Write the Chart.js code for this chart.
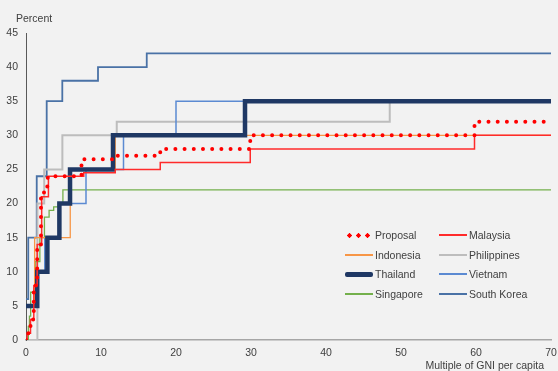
<!DOCTYPE html>
<html>
<head>
<meta charset="utf-8">
<script src="https://cdn.jsdelivr.net/npm/chart.js@4.4.0/dist/chart.umd.min.js"></script>
<style>
    html, body { margin: 0; padding: 0; background: #F2F2F2; }
    #wrap { position: relative; width: 558px; height: 371px; background: #F2F2F2; font-family: "Liberation Sans", Arial, sans-serif; color: #404040; }
    #chart { position: absolute; left: 0; top: 0; }
    .title { position: absolute; font-size: 10.5px; white-space: nowrap; }
    .legend-item { position: absolute; height: 14px; font-size: 10.5px; line-height: 14px; white-space: nowrap; }
    .legend-item .swatch { position: absolute; left: 0; width: 28px; }
    .legend-item .label { position: absolute; left: 30px; top: 0; }
</style>
</head>
<body>
<div id="wrap">
    <canvas id="chart" width="558" height="371"></canvas>
    <div class="title" style="left:16px; top:12px;">Percent</div>
    <div class="title" style="right:14px; top:359px;">Multiple of GNI per capita</div>
    <div id="legend"></div>
</div>
<script>
// x = multiple of GNI per capita where the next rate starts, y = marginal rate (%)
const proposalBreaks = [0.15, 0.6, 1.04, 1.49, 2.0, 2.4, 2.9, 7.4, 11.9, 17.9, 29.9, 59.8];
const proposalRates = [0, 1, 3, 8, 14, 21, 22.5, 24, 26.5, 27, 28, 30, 32];

const malaysiaBreaks = [0.15, 0.6, 1.04, 1.49, 2.09, 2.99, 7.7, 11.9, 17.9, 29.9, 59.8];
const malaysiaRates = [0, 1, 3, 8, 14, 21, 24, 24.5, 25, 26, 28, 30];

const indonesiaBreaks = [1.15, 5.9, 11.9];
const indonesiaRates = [5, 15, 25, 30];

const philippinesBreaks = [1.52, 2.43, 4.85, 12.1, 48.5];
const philippinesRates = [0, 20, 25, 30, 32, 35];

const thailandBreaks = [1.5, 2.85, 4.45, 5.87, 11.6, 29.2];
const thailandRates = [5, 10, 15, 20, 25, 30, 35];

const vietnamBreaks = [1.25, 2.5, 4.5, 8, 13, 20];
const vietnamRates = [5, 10, 15, 20, 25, 30, 35];

const singaporeBreaks = [0.31, 0.46, 0.62, 1.23, 1.85, 2.46, 3.08, 3.69, 4.31, 4.92];
const singaporeRates = [0, 2, 3.5, 7, 11.5, 15, 18, 19, 19.5, 20, 22];

const koreaBreaks = [0.3, 1.43, 2.76, 4.84, 9.6, 16.1];
const koreaRates = [6, 15, 24, 35, 38, 40, 42];

const xTicks = [0, 10, 20, 30, 40, 50, 60, 70];
const yTicks = [0, 5, 10, 15, 20, 25, 30, 35, 40, 45];

const X_MAX = 70;

function steps(breaks, rates) {
    const pts = [{ x: 0, y: rates[0] }];
    breaks.forEach((b, i) => pts.push({ x: b, y: rates[i + 1] }));
    pts.push({ x: X_MAX, y: rates[rates.length - 1] });
    return pts;
}

const series = [
    { label: "Proposal", breaks: proposalBreaks, rates: proposalRates, color: "#FF0000", width: 4, dotted: true, col: 0, row: 0 },
    { label: "Malaysia", breaks: malaysiaBreaks, rates: malaysiaRates, color: "#FF2B2B", width: 1.5, col: 1, row: 0 },
    { label: "Thailand", breaks: thailandBreaks, rates: thailandRates, color: "#1F3864", width: 4.5, col: 0, row: 2 },
    { label: "Indonesia", breaks: indonesiaBreaks, rates: indonesiaRates, color: "#F79646", width: 1.3, col: 0, row: 1 },
    { label: "Vietnam", breaks: vietnamBreaks, rates: vietnamRates, color: "#5B8AD2", width: 1.5, col: 1, row: 2 },
    { label: "Singapore", breaks: singaporeBreaks, rates: singaporeRates, color: "#74B04C", width: 1.3, col: 0, row: 3 },
    { label: "Philippines", breaks: philippinesBreaks, rates: philippinesRates, color: "#BDBDBD", width: 2, col: 1, row: 1 },
    { label: "South Korea", breaks: koreaBreaks, rates: koreaRates, color: "#4A72A6", width: 1.8, col: 1, row: 3 }
];

const datasets = series.map((s) => ({
    label: s.label,
    data: steps(s.breaks, s.rates),
    borderColor: s.color,
    backgroundColor: s.color,
    borderWidth: s.width,
    borderDash: s.dotted ? [0, 9.2] : [],
    borderCapStyle: s.dotted ? "round" : "butt",
    stepped: "before",
    pointRadius: 0,
    fill: false
}));

const tickFont = { family: "'Liberation Sans', Arial, sans-serif", size: 10.5 };

new Chart(document.getElementById("chart").getContext("2d"), {
    type: "line",
    data: { datasets },
    options: {
        responsive: false,
        animation: false,
        layout: { padding: { top: 33, right: 7, left: 0, bottom: 0 } },
        plugins: { legend: { display: false }, tooltip: { enabled: false } },
        scales: {
            x: {
                type: "linear",
                min: 0,
                max: X_MAX,
                afterFit(scale) {
                    scale.height = 31;
                    scale.paddingLeft = 0;
                    scale.paddingRight = 0;
                },
                afterBuildTicks(scale) { scale.ticks = xTicks.map((v) => ({ value: v })); },
                grid: { display: false, drawTicks: false },
                border: { color: "#A6A6A6", width: 1.5 },
                ticks: { color: "#404040", font: tickFont, padding: 7, maxRotation: 0 }
            },
            y: {
                min: 0,
                max: 45,
                afterFit(scale) {
                    scale.width = 26;
                    scale.paddingTop = 0;
                    scale.paddingBottom = 0;
                },
                afterBuildTicks(scale) { scale.ticks = yTicks.map((v) => ({ value: v })); },
                grid: { display: false, drawTicks: false },
                border: { color: "#595959", width: 1 },
                ticks: { color: "#404040", font: tickFont, padding: 8 }
            }
        }
    }
});

// legend drawn inside the plot, two columns
const legend = document.getElementById("legend");
const colX = [345, 439];
const rowY = [235, 254.5, 274, 293.5];
series.forEach((s) => {
    const item = document.createElement("div");
    item.className = "legend-item";
    item.style.left = colX[s.col] + "px";
    item.style.top = (rowY[s.row] - 7) + "px";
    const sw = document.createElement("div");
    sw.className = "swatch";
    if (s.dotted) {
        sw.style.height = "5px";
        sw.style.top = "4.5px";
        sw.style.background = "radial-gradient(circle, " + s.color + " 2px, transparent 2.3px) 0 0 / 9px 5px repeat-x";
    } else {
        const h = s.width > 3 ? 5 : 2;
        sw.style.height = h + "px";
        sw.style.top = (7 - h / 2) + "px";
        sw.style.background = s.color;
        if (h > 3) sw.style.borderRadius = "2px";
    }
    const lb = document.createElement("span");
    lb.className = "label";
    lb.textContent = s.label;
    item.appendChild(sw);
    item.appendChild(lb);
    legend.appendChild(item);
});
</script>
</body>
</html>
